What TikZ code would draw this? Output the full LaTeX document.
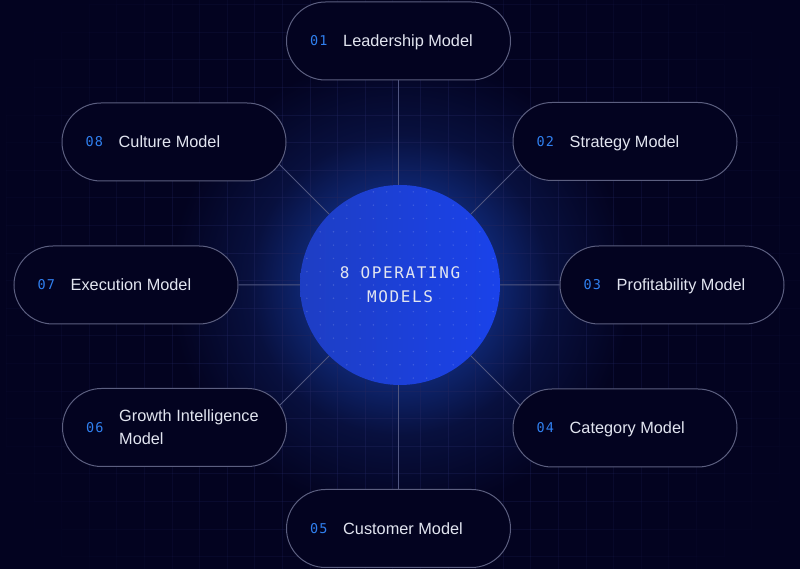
\documentclass[tikz,border=0pt]{standalone}
\usepackage{fontspec}
\setmainfont{Liberation Sans}
\newfontfamily\numfont[LetterSpace=8]{DejaVu Sans Mono}
\newfontfamily\hubfont[LetterSpace=10]{DejaVu Sans Mono}
\usetikzlibrary{shapes.misc}

\definecolor{bgnavy}{RGB}{3,3,32}
\definecolor{gridline}{RGB}{34,38,96}
\definecolor{glowblue}{RGB}{14,36,108}
\definecolor{glowmid}{RGB}{8,16,62}
\definecolor{hubleft}{RGB}{30,62,196}
\definecolor{hubright}{RGB}{26,66,234}
\definecolor{pillline}{RGB}{92,95,128}
\definecolor{linkline}{RGB}{80,86,128}
\definecolor{labeltext}{RGB}{226,229,240}
\definecolor{numblue}{RGB}{48,128,240}

\pgfdeclarelayer{back}
\pgfdeclarelayer{links}
\pgfsetlayers{back,links,main}

\pgfdeclareradialshading{hubglow}{\pgfpoint{0bp}{0bp}}{%
  color(0bp)=(glowblue); color(10.6bp)=(glowblue); color(16bp)=(glowmid);
  color(24.5bp)=(bgnavy); color(50bp)=(bgnavy)}

\tikzset{
  pill/.style={rounded rectangle, draw=pillline, line width=1pt, fill=bgnavy,
               minimum width=224pt, minimum height=78pt, inner sep=0pt},
  num/.style={anchor=west, inner sep=0pt, text=numblue, text height=10pt, text depth=0pt,
              font=\numfont\fontsize{13.5}{16}\selectfont},
  lbl/.style={anchor=west, inner sep=0pt, text=labeltext, align=left,
              font=\fontsize{16.3}{23}\selectfont},
  oneline/.style={text height=12pt, text depth=0pt},
  twoline/.style={},
  link/.style={draw=linkline, line width=1pt},
  gridseg/.style={draw=gridline, line width=.8pt},
  hub/.style={circle, minimum size=200pt, inner sep=0pt, left color=hubleft,
              right color=hubright, text=labeltext, align=center,
              font=\hubfont\fontsize{16}{24}\selectfont},
}

\begin{document}
\begin{tikzpicture}[x=1pt, y=1pt]
\useasboundingbox (0,0) rectangle (800,569);

% centre circle
\node[hub] (hub) at (400,284) {8 OPERATING\\MODELS};
\begin{scope}
  \clip (hub.center) circle (100);
  \foreach \i in {-8,...,8}
    \foreach \j in {-8,...,8}
      \fill[white, opacity=.16] ([shift={(\i*13.3,\j*13.3)}]hub.center) circle (.8);
\end{scope}

% the eight models
\foreach \n/\x/\y/\txt/\rows in {
    01/398.5/528/Leadership Model/oneline,
    02/625/427.5/Strategy Model/oneline,
    03/672/284/Profitability Model/oneline,
    04/625/141/Category Model/oneline,
    05/398.5/40.5/Customer Model/oneline,
    06/174.5/141.5/{Growth Intelligence\\Model}/twoline,
    07/126/284/Execution Model/oneline,
    08/174/427/Culture Model/oneline}{
  \node[pill] (p\n) at (\x,\y) {};
  \node[num] (n\n) at ([xshift=24pt]p\n.west) {\n};
  \node[lbl,\rows] (t\n) at ([xshift=57pt]p\n.west) {\txt};
}

% spokes
\begin{pgfonlayer}{links}
  \draw[link] (p01) -- (p05);
  \draw[link] (p07) -- (p03);
  \foreach \a/\k in {45/02,135/08,225/06,315/04} {
    \path (hub.center) ++(\a:190) coordinate (k\k);
    \draw[link] (hub.center) -- (k\k);
  }
\end{pgfonlayer}

% backdrop, glow and grid (grid fades out from the centre)
\begin{pgfonlayer}{back}
  \fill[bgnavy] (0,0) rectangle (800,569);
  \shade[shading=hubglow] (hub.center) circle (235);
  \foreach \i in {-14,...,14}
    \foreach \j in {-5,...,16} {
      \pgfmathsetmacro\gx{392.7+27.6*\i}
      \pgfmathsetmacro\gy{454-27.6*\j}
      \pgfmathsetmacro\vop{0.6*max(0,1-veclen(\gx-400,\gy-13.8-284)/450)}
      \pgfmathsetmacro\hop{0.6*max(0,1-veclen(\gx+13.8-400,\gy-284)/450)}
      \draw[gridseg, opacity=\vop] (\gx,\gy) -- ++(0,-27.6);
      \draw[gridseg, opacity=\hop] (\gx,\gy) -- ++(27.6,0);
    }
\end{pgfonlayer}
\end{tikzpicture}
\end{document}
